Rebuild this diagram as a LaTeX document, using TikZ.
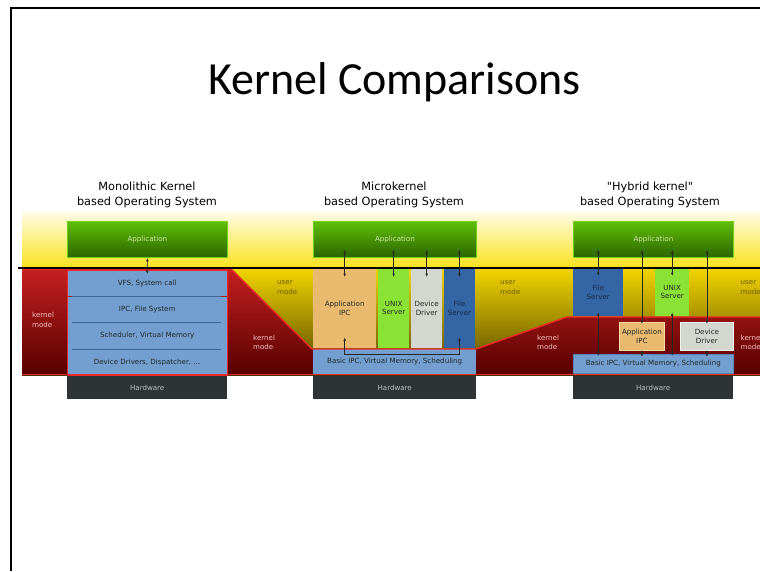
\documentclass[tikz,border=0pt]{standalone}
\usepackage{fontspec}
\setmainfont{DejaVu Sans}[Ligatures=TeXOff]
\newfontfamily\titlefont{Carlito}
\usetikzlibrary{arrows.meta}

\definecolor{bandTop}{HTML}{FFFCE6}
\definecolor{bandBot}{HTML}{F9E21C}
\definecolor{userTop}{HTML}{F2D500}
\definecolor{userBot}{HTML}{4F4200}
\definecolor{kTop}{HTML}{C62020}
\definecolor{kBot}{HTML}{560000}
\definecolor{kEdge}{HTML}{EF2929}
\definecolor{appTop}{HTML}{5FBE06}
\definecolor{appBot}{HTML}{2C6400}
\definecolor{appEdge}{HTML}{73D216}
\definecolor{appText}{HTML}{CDE6B0}
\definecolor{layerBlue}{HTML}{729FCF}
\definecolor{sepBlue}{HTML}{3F6590}
\definecolor{layerEdge}{HTML}{5A84B8}
\definecolor{ipcOrange}{HTML}{E9B96E}
\definecolor{ipcEdge}{HTML}{F7D9A6}
\definecolor{unixGreen}{HTML}{8AE234}
\definecolor{ddGrey}{HTML}{D3D7CF}
\definecolor{ddEdge}{HTML}{F2F2EE}
\definecolor{fsBlue}{HTML}{3465A4}
\definecolor{fsText}{HTML}{1B2B45}
\definecolor{hwGrey}{HTML}{2E3436}
\definecolor{hwText}{HTML}{BEC2BE}
\definecolor{boxText}{HTML}{232829}
\definecolor{userText}{HTML}{6E5C00}
\definecolor{kText}{HTML}{F0BDBD}

\begin{document}
\begin{tikzpicture}[x=1pt,y=-1pt,
  small/.style={font=\fontsize{7.1}{8.4}\selectfont, inner sep=0pt, align=center},
  boxbase/.style={small, anchor=north west, text=boxText},
  appbox/.style={boxbase, top color=appTop, bottom color=appBot, draw=appEdge,
    line width=0.8pt, text=appText, minimum width=160, minimum height=36},
  layer/.style={boxbase, fill=layerBlue, minimum width=160, minimum height=26},
  srv/.style={boxbase},
  hwbox/.style={boxbase, fill=hwGrey, text=hwText, minimum width=160, minimum height=23},
  sep/.style={draw=sepBlue, line width=0.9pt},
  kedge/.style={draw=kEdge, line width=1.4pt},
  dbl/.style={{Latex[length=3.5pt,width=2.6pt]}-{Latex[length=3.5pt,width=2.6pt]},
    line width=0.6pt, draw=black!85},
  modelbl/.style={font=\fontsize{7.1}{9.5}\selectfont, inner sep=0pt, align=left, anchor=west},
  sectitle/.style={font=\fontsize{11.3}{15}\selectfont, inner sep=0pt, align=center}]

\useasboundingbox (0,0) rectangle (760,571);
\clip (0,0) rectangle (760,571);
\fill[white] (0,0) rectangle (760,571);

% slide frame
\draw[line width=2pt] (11,571) -- (11,7.5) -- (760,7.5);

% slide title
\node[font=\titlefont\fontsize{46}{50}\selectfont, anchor=base, inner sep=0pt] (title)
  at (394.5,94) {Kernel Comparisons};

% section headings
\node[sectitle] (t1) at (147,194.5) {Monolithic Kernel\\based Operating System};
\node[sectitle] (t2) at (394,194.5) {Microkernel\\based Operating System};
\node[sectitle] (t3) at (650,194.5) {"Hybrid kernel"\\based Operating System};

% user / kernel mode backgrounds
\fill[top color=bandTop, bottom color=bandBot] (22,212) rectangle (760,268);
\fill[top color=userTop, bottom color=userBot] (22,268) rectangle (760,375);
\fill[top color=kTop, bottom color=kBot]
  (22,269) -- (231,269) -- (312,349) -- (476,349) -- (567,317) -- (760,317)
  -- (760,375) -- (22,375) -- cycle;

% ---------- monolithic kernel ----------
\node[appbox] (oapp) at (67,221) {Application};
\node[layer] (ovfs) at (67,270) {VFS, System call};
\node[layer, anchor=north] (oipc) at (ovfs.south) {IPC, File System};
\node[layer, anchor=north] (osch) at (oipc.south) {Scheduler, Virtual Memory};
\node[layer, anchor=north] (odrv) at (osch.south) {Device Drivers, Dispatcher, \dots};
\draw[draw=kEdge, line width=0.8pt] (ovfs.north west) rectangle (odrv.south east);
\foreach \n in {ovfs,oipc,osch}
  \draw[sep] ([xshift=5pt]\n.south west) -- ([xshift=-6pt]\n.south east);
\node[hwbox] (ohw) at (67,376) {Hardware};

% ---------- microkernel ----------
\node[appbox, minimum width=163] (mapp) at (313,221) {Application};
\node[srv, fill=ipcOrange, minimum width=63, minimum height=80] (mipc) at (313,268) {Application\\IPC};
\node[srv, fill=unixGreen, minimum width=31, minimum height=80] (munix) at (378,268) {UNIX\\Server};
\node[srv, fill=ddGrey, minimum width=31, minimum height=80] (mdd) at (411,268) {Device\\Driver};
\node[srv, fill=fsBlue, text=fsText, minimum width=30.5, minimum height=80] (mfs) at (444,268) {File\\Server};
\node[layer, minimum width=163, minimum height=25] (mbasic) at (313,349) {Basic IPC, Virtual Memory, Scheduling};
\node[hwbox, minimum width=163] (mhw) at (313,376) {Hardware};

% ---------- hybrid kernel ----------
\node[appbox] (happ) at (573,221) {Application};
\node[srv, fill=fsBlue, text=fsText, minimum width=50, minimum height=48] (hfs) at (573,268) {File\\Server};
\node[srv, fill=unixGreen, minimum width=34, minimum height=48] (hunix) at (655,268) {UNIX\\Server};
\node[srv, fill=ipcOrange, draw=ipcEdge, line width=0.8pt, minimum width=45, minimum height=28] (hipc) at (619,322) {Application\\IPC};
\node[srv, fill=ddGrey, draw=ddEdge, line width=0.8pt, minimum width=53, minimum height=28] (hdd) at (680,322) {Device\\Driver};
\node[layer, draw=layerEdge, line width=0.6pt, minimum height=19] (hbasic) at (573,354) {Basic IPC, Virtual Memory, Scheduling};
\node[hwbox] (hhw) at (573,376) {Hardware};

% kernel mode boundary
\draw[kedge] (22,269) -- (231,269) -- (312,349) -- (476,349) -- (567,317) -- (760,317);
\draw[kedge] (22,374.5) -- (760,374.5);

% user / kernel separation line
\draw[line width=1.5pt] (18,268) -- (760,268);

% mode labels
\node[modelbl, text=kText] (km1) at (32,320) {kernel\\mode};
\node[modelbl, text=userText] (um1) at (277,287.5) {user\\mode};
\node[modelbl, text=kText] (km2) at (253,342.5) {kernel\\mode};
\node[modelbl, text=userText] (um2) at (500,287.5) {user\\mode};
\node[modelbl, text=kText] (km3) at (537,342.5) {kernel\\mode};
\node[modelbl, text=userText] (um3) at (740.5,287.5) {user\\mode};
\node[modelbl, text=kText] (km4) at (740.5,342.5) {kernel\\mode};

% monolithic calls
\draw[dbl, shorten >=-4pt] (oapp.south) -- (ovfs.north);

% microkernel calls
\foreach \s in {mipc,munix,mdd,mfs}
  \draw[dbl, shorten <=-8pt, shorten >=-9pt] (\s.north |- mapp.south) -- (\s.north);
\coordinate (mbus) at (0,354);
\draw[dbl] ([yshift=11pt]mipc.south) -- (mipc.south |- mbus) -- (mfs.south |- mbus)
  -- ([yshift=11pt]mfs.south);

% hybrid kernel calls
\foreach \s in {hfs,hunix}
  \draw[dbl, shorten <=-8pt, shorten >=-8pt] (\s.north |- happ.south) -- (\s.north);
\foreach \s in {hipc,hdd}
  \draw[dbl, shorten <=-8pt, shorten >=-2pt] (\s.north |- happ.south) -- (\s.north);
\foreach \s in {hfs,hunix}
  \draw[dbl, shorten <=-4pt, shorten >=-2pt] (\s.south) -- (\s.south |- hbasic.north);
\foreach \s in {hipc,hdd}
  \draw[dbl, shorten <=-1pt, shorten >=-3pt] (\s.south) -- (\s.south |- hbasic.north);

\end{tikzpicture}
\end{document}
